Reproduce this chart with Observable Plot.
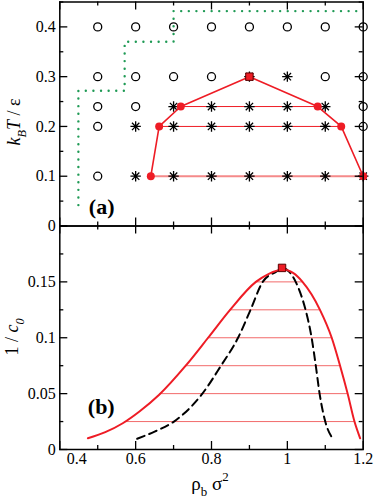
<!DOCTYPE html>
<html><head><meta charset="utf-8">
<script src="https://cdn.jsdelivr.net/npm/d3@7"></script>
<script src="https://cdn.jsdelivr.net/npm/@observablehq/plot@0.6"></script>
<style>
body{margin:0;background:white;}
#wrap{position:relative;width:374px;height:500px;background:white;}
#wrap svg{position:absolute;left:0;top:0;}
#wrap svg text{font-family:"Liberation Serif", serif !important;}
</style></head><body><div id="wrap"></div>
<script>
// ---------- panel (a) data ----------
const colRho = [0.5, 0.6, 0.7, 0.8, 0.9, 1.0, 1.1, 1.2];
const rowT = [0.4, 0.3, 0.24, 0.2, 0.1];
const rowStates = ["oooooooo", "oooo**oo", "oo*****o", "o******o", "o*******"];
const binRho = [0.64, 0.662, 0.719, 0.9, 1.08, 1.142, 1.2];
const binT = [0.1, 0.2, 0.24, 0.3, 0.24, 0.2, 0.1];
const critRhoA = [0.9];
const critTA = [0.3];
const tieTA = [0.24, 0.2];
const tieLeftA = [0.719, 0.662];
const tieRightA = [1.08, 1.142];
const tieTA2 = [0.1];
const tieLeftA2 = [0.64];
const tieRightA2 = [1.2];
const greenRho = [0.449, 0.449, 0.571, 0.571, 0.70, 0.70, 1.2];
const greenT = [0.042, 0.2717, 0.2717, 0.370, 0.370, 0.4317, 0.4317];

// ---------- panel (b) data ----------
const redRho = [0.474, 0.52, 0.566, 0.61, 0.662, 0.732, 0.791, 0.849, 0.917, 0.95, 0.99, 1.015, 1.04, 1.086, 1.117, 1.139, 1.159, 1.177, 1.192];
const redC   = [0.010, 0.0155, 0.0235, 0.034, 0.049, 0.075, 0.100, 0.125, 0.150, 0.157, 0.161, 0.158, 0.150, 0.125, 0.100, 0.075, 0.050, 0.025, 0.010];
const dashRho = [0.604, 0.65, 0.701, 0.776, 0.825, 0.87, 0.903, 0.935, 0.97, 0.99, 1.005, 1.022, 1.037, 1.048, 1.064, 1.075, 1.085, 1.10, 1.12];
const dashC   = [0.0096, 0.016, 0.025, 0.05, 0.075, 0.1, 0.125, 0.15, 0.159, 0.162, 0.159, 0.15, 0.1375, 0.125, 0.1, 0.075, 0.05, 0.025, 0.0096];
const tieCB = [0.025, 0.05, 0.075, 0.1, 0.125, 0.15];
const tieLeftB = [0.572, 0.664, 0.732, 0.791, 0.849, 0.917];
const tieRightB = [1.177, 1.159, 1.139, 1.117, 1.086, 1.04];
const critRhoB = [0.986];
const critCB = [0.1625];

// ---------- ticks ----------
const xMajor = [0.4, 0.6, 0.8, 1.0, 1.2];
const xMinor = [0.5, 0.7, 0.9, 1.1];
const xLabels = ["0.4", "0.6", "0.8", "1", "1.2"];
const yMajorA = [0, 0.1, 0.2, 0.3, 0.4];
const yMinorA = [0.05, 0.15, 0.25, 0.35, 0.45];
const yMajorB = [0, 0.05, 0.1, 0.15, 0.2];
const yMinorB = [0.025, 0.075, 0.125, 0.175];
const yLabelsB = [0, 0.05, 0.1, 0.15];

// ---------- styling ----------
const RED = "#ee1c25";
const TIE = "#f26a6a";
const W = 374, H = 500;
const ML = 59.3, MR = 11.3;
const topA = 1.5, botA = 225.5, botB = 449;
const serif = "Liberation Serif";

const star8 = {
  draw(ctx, size) {
    const r = Math.sqrt(size / Math.PI);
    for (let i = 0; i < 4; i++) {
      const a = i * Math.PI / 4;
      ctx.moveTo(-r * Math.cos(a), -r * Math.sin(a));
      ctx.lineTo(r * Math.cos(a), r * Math.sin(a));
    }
  }
};

function frameTicks(ph, pw, yMaj, yMin) {
  const M = 8, m = 4;
  const st = {stroke: "black", strokeWidth: 1.3};
  return [
    Plot.tickX(xMajor, {x: d => d, insetTop: ph - M, ...st}),
    Plot.tickX(xMinor, {x: d => d, insetTop: ph - m, ...st}),
    Plot.tickX(xMajor, {x: d => d, insetBottom: ph - M, ...st}),
    Plot.tickX(xMinor, {x: d => d, insetBottom: ph - m, ...st}),
    Plot.tickY(yMaj, {y: d => d, insetRight: pw - M, ...st}),
    Plot.tickY(yMin, {y: d => d, insetRight: pw - m, ...st}),
    Plot.tickY(yMaj, {y: d => d, insetLeft: pw - M, ...st}),
    Plot.tickY(yMin, {y: d => d, insetLeft: pw - m, ...st}),
    Plot.frame({stroke: "black", strokeWidth: 1.5})
  ];
}

// build state points
const phasePts = [];
rowT.forEach((t, i) => colRho.forEach((r, j) => phasePts.push({rho: r, T: t, s: rowStates[i][j]})));
const binPts = binRho.map((r, i) => ({rho: r, T: binT[i]}));
const binDots = binPts.filter(d => !(d.rho === critRhoA[0] && d.T === critTA[0]));
const tiesA = tieTA.map((t, i) => ({T: t, x1: tieLeftA[i], x2: tieRightA[i]}));
const tiesA2 = tieTA2.map((t, i) => ({T: t, x1: tieLeftA2[i], x2: tieRightA2[i]}));
const greenPts = greenRho.map((r, i) => ({rho: r, T: greenT[i]}));

const phA = botA - topA, pw = W - ML - MR;
const axText = {tickSize: 0, fontSize: 16, fontFamily: serif, label: null};

const plotA = Plot.plot({
  width: W, height: H,
  marginLeft: ML, marginRight: MR, marginTop: topA, marginBottom: H - botA,
  x: {domain: [0.4, 1.2], axis: null},
  y: {domain: [0, 0.45], axis: null},
  style: {background: "transparent", overflow: "visible", fontFamily: serif},
  marks: [
    Plot.line(greenPts, {x: "rho", y: "T", stroke: "#1f9a55", strokeWidth: 2.4, strokeDasharray: "0.01,7.6", strokeLinecap: "round"}),
    Plot.ruleY(tiesA2, {y: "T", x1: "x1", x2: "x2", stroke: "#f58a8a", strokeWidth: 2}),
    Plot.ruleY(tiesA, {y: "T", x1: "x1", x2: "x2", stroke: RED, strokeWidth: 1}),
    Plot.dot(phasePts.filter(d => d.s === "o"), {x: "rho", y: "T", r: 4, stroke: "black", strokeWidth: 1.3, fill: "none"}),
    Plot.dot(phasePts.filter(d => d.s === "*"), {x: "rho", y: "T", r: 5.2, symbol: star8, stroke: "black", strokeWidth: 1.3}),
    Plot.line(binPts, {x: "rho", y: "T", stroke: RED, strokeWidth: 1.6}),
    Plot.dot(binDots, {x: "rho", y: "T", r: 4, fill: RED}),
    Plot.dot(critRhoA.map((r, i) => ({rho: r, T: critTA[i]})), {x: "rho", y: "T", symbol: "square", r: 4.2, fill: RED, stroke: "#5a0000", strokeWidth: 1}),
    ...frameTicks(phA, pw, yMajorA, yMinorA),
    Plot.axisY(yMajorA, {...axText, tickPadding: 4, tickFormat: d => String(d)}),
    Plot.text(["(a)"], {frameAnchor: "bottom-left", dx: 29, dy: -12, textAnchor: "start", lineAnchor: "bottom", fontSize: 22, fontWeight: "bold", fontFamily: serif, fill: "black"})
  ]
});

const redPts = redRho.map((r, i) => ({rho: r, c: redC[i]}));
const dashPts = dashRho.map((r, i) => ({rho: r, c: dashC[i]}));
const tiesB = tieCB.map((c, i) => ({c, x1: tieLeftB[i], x2: tieRightB[i]}));
const phB = botB - botA;

const plotB = Plot.plot({
  width: W, height: H,
  marginLeft: ML, marginRight: MR, marginTop: botA, marginBottom: H - botB,
  x: {domain: [0.4, 1.2], axis: null},
  y: {domain: [0, 0.2], axis: null},
  style: {background: "transparent", overflow: "visible", fontFamily: serif},
  marks: [
    Plot.ruleY(tiesB, {y: "c", x1: "x1", x2: "x2", stroke: TIE, strokeWidth: 1}),
    Plot.line(dashPts, {x: "rho", y: "c", curve: "monotone-x", stroke: "black", strokeWidth: 2, strokeDasharray: "8,5"}),
    Plot.line(redPts, {x: "rho", y: "c", curve: "monotone-x", stroke: RED, strokeWidth: 2}),
    Plot.dot(critRhoB.map((r, i) => ({rho: r, c: critCB[i]})), {x: "rho", y: "c", symbol: "square", r: 4.2, fill: RED, stroke: "#5a0000", strokeWidth: 1}),
    ...frameTicks(phB, pw, yMajorB, yMinorB),
    Plot.axisY(yLabelsB, {...axText, tickPadding: 4, tickFormat: d => String(d)}),
    Plot.axisX(xMajor.slice(1), {...axText, tickPadding: 3, tickFormat: d => xLabels[xMajor.indexOf(d)]}),
    Plot.axisX(xMajor.slice(0, 1), {...axText, tickPadding: 3, dx: 17, tickFormat: d => xLabels[xMajor.indexOf(d)]}),
    Plot.text(["(b)"], {frameAnchor: "bottom-left", dx: 28, dy: -36, textAnchor: "start", lineAnchor: "bottom", fontSize: 22, fontWeight: "bold", fontFamily: serif, fill: "black"})
  ]
});

function addRich(svg, x, y, rotate, size, parts) {
  const t = d3.select(svg).append("text")
    .attr("transform", `translate(${x},${y}) rotate(${rotate})`)
    .attr("text-anchor", "middle")
    .attr("font-size", size).attr("fill", "black");
  let shift = 0;
  for (const [s, flags] of parts) {
    const ts = t.append("tspan").text(s);
    const target = flags.includes("sub") ? size * 0.32 : flags.includes("sup") ? -size * 0.45 : 0;
    ts.attr("dy", target - shift); shift = target;
    if (flags.includes("sub") || flags.includes("sup")) ts.attr("font-size", size * 0.68);
    if (flags.includes("it")) ts.attr("font-style", "italic");
  }
}

const wrap = document.getElementById("wrap");
wrap.appendChild(plotA);
wrap.appendChild(plotB);

addRich(plotA, 20, 122, -90, 18, [["k", ["it"]], ["B", ["sub", "it"]], ["T", ["it"]], [" / ε", []]]);
addRich(plotB, 18, 337, -90, 18, [["1 / ", []], ["c", ["it"]], ["0", ["sub", "it"]]]);
addRich(plotB, 210, 490, 0, 19, [["ρ", []], ["b", ["sub"]], [" σ", []], ["2", ["sup"]]]);
</script>
</body></html>
